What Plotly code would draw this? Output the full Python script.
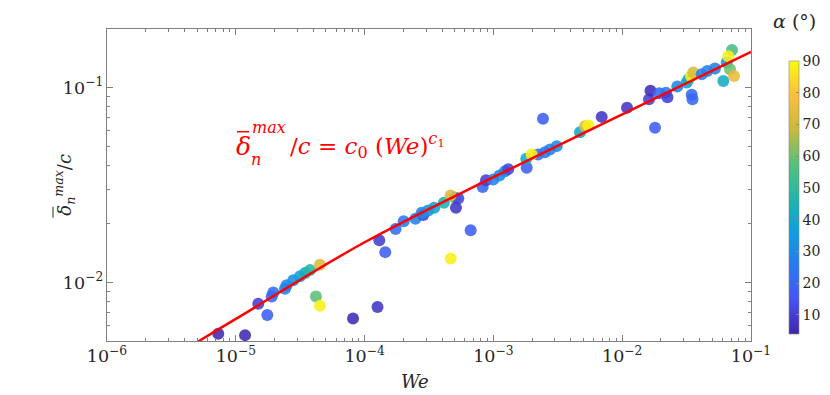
import plotly.graph_objects as go

FONT_FAMILY = "DejaVu Serif"

# Weber number, normalised max deflection, inclination angle (deg)
we = [7.31e-6, 1.18e-5, 1.495e-5, 1.756e-5, 1.90e-5, 1.955e-5, 2.41e-5, 2.48e-5, 2.795e-5, 3.15e-5,
      3.45e-5, 3.77e-5, 4.50e-5, 4.19e-5, 4.50e-5, 8.13e-5, 1.26e-4, 1.30e-4, 1.447e-4, 1.74e-4,
      2.01e-4, 2.48e-4, 2.855e-4, 2.775e-4, 3.12e-4, 3.475e-4, 4.13e-4, 5.03e-4, 5.34e-4, 5.12e-4,
      4.66e-4, 4.66e-4, 6.66e-4, 8.26e-4, 8.76e-4, 9.98e-4, 1.115e-3, 1.23e-3, 1.305e-3, 1.814e-3,
      1.80e-3, 2.22e-3, 1.98e-3, 2.515e-3, 2.75e-3, 3.10e-3, 2.427e-3, 4.70e-3, 5.14e-3, 5.455e-3,
      6.93e-3, 1.09e-2, 1.614e-2, 1.658e-2, 1.798e-2, 1.94e-2, 2.188e-2, 2.247e-2, 2.678e-2, 3.168e-2,
      3.27e-2, 3.464e-2, 3.514e-2, 3.42e-2, 3.565e-2, 4.143e-2, 4.577e-2, 5.253e-2, 6.095e-2, 6.476e-2,
      6.87e-2, 7.12e-2, 6.665e-2, 7.38e-2]
delta = [0.00545, 0.00536, 0.00777, 0.0068, 0.00847, 0.00888, 0.00928, 0.00967, 0.01026, 0.01074,
         0.01118, 0.01156, 0.01233, 0.00847, 0.00759, 0.00653, 0.00747, 0.01644, 0.0143, 0.01882,
         0.0206, 0.0212, 0.0222, 0.02275, 0.02338, 0.02414, 0.02561, 0.02717, 0.02694, 0.02414,
         0.02792, 0.01327, 0.01851, 0.03088, 0.03347, 0.03375, 0.03539, 0.03724, 0.03815, 0.03879,
         0.04313, 0.04538, 0.04538, 0.04663, 0.04815, 0.05007, 0.06926, 0.05908, 0.0634, 0.06398,
         0.07076, 0.07888, 0.08705, 0.09651, 0.06225, 0.09348, 0.09425, 0.08915, 0.1012, 0.1061,
         0.1103, 0.0918, 0.08705, 0.1147, 0.1195, 0.1171, 0.1217, 0.1252, 0.1081, 0.1345,
         0.1242, 0.1561, 0.1449, 0.1147]
alpha = [5, 5, 10, 18, 20, 22, 28, 28, 32, 38,
         42, 48, 72, 58, 88, 6, 8, 10, 18, 22,
         25, 28, 10, 30, 33, 38, 45, 50, 12, 8,
         72, 88, 18, 20, 10, 28, 30, 30, 12, 18,
         40, 22, 88, 25, 28, 30, 18, 40, 72, 88,
         8, 8, 10, 6, 18, 22, 25, 10, 30, 38,
         45, 20, 20, 88, 72, 28, 28, 28, 42, 35,
         60, 55, 88, 75]

# power-law fit
fit_we = [5.1e-6, 1e-5, 1e-4, 1e-3, 1e-2, 1e-1]
fit_delta = [0.00497, 0.00649, 0.01607, 0.0347, 0.0729, 0.1524]

cbar_ticks = [10, 20, 30, 40, 50, 60, 70, 80, 90]

PARULA = [
    [0.0, "rgb(62,38,168)"],
    [0.125, "rgb(72,82,244)"],
    [0.25, "rgb(40,122,242)"],
    [0.375, "rgb(13,158,222)"],
    [0.5, "rgb(32,182,170)"],
    [0.625, "rgb(88,192,122)"],
    [0.75, "rgb(200,186,60)"],
    [0.875, "rgb(254,190,60)"],
    [1.0, "rgb(249,251,14)"],
]

# page body adds an 8px offset; plot box in screen pixels
OFF = 8
L, R, T, B = 107, 751, 29.3, 341.3


def px(x):
    return (x - L) / (R - L)


def py(y):
    return (B - y) / (B - T)


fig = go.Figure()

fig.add_trace(go.Scatter(
    x=we, y=delta, mode="markers", showlegend=False,
    marker=dict(size=12, color=alpha, colorscale=PARULA, cmin=4, cmax=90, opacity=0.88,
                line=dict(width=0),
                colorbar=dict(x=px(779), xanchor="left", y=py(344.3), yanchor="bottom",
                              len=(344.3 - 51.7) / (B - T), lenmode="fraction", thickness=10,
                              outlinewidth=0.6, outlinecolor="#888",
                              tickvals=cbar_ticks, ticks="inside", ticklen=3, tickcolor="#888",
                              tickfont=dict(family=FONT_FAMILY, size=14, color="#262626"))),
))

fig.add_trace(go.Scatter(x=fit_we, y=fit_delta, mode="lines", showlegend=False,
                         line=dict(color="#ff0000", width=2.5, shape="spline", smoothing=1.0)))

ax = dict(type="log", showline=True, linewidth=1, linecolor="#808080", mirror="allticks",
          ticks="inside", ticklen=6, tickcolor="#808080", showgrid=False, zeroline=False,
          automargin=False, exponentformat="power",
          tickfont=dict(family=FONT_FAMILY, size=14, color="#262626"),
          minor=dict(ticks="inside", ticklen=3, tickcolor="#808080", showgrid=False))

red = "#ff0000"
dark = "#262626"
ann = [
    # colorbar title
    dict(text="<i>α</i> (°)", x=px(794), y=py(21), xanchor="center", yanchor="middle",
         font=dict(size=19, color=dark)),
    # in-plot formula
    dict(text="<i>δ</i>", x=px(243), y=py(147), xanchor="center", yanchor="middle",
         font=dict(size=25, color=red)),
    dict(text="<i>max</i>", x=px(250), y=py(128), xanchor="left", yanchor="middle",
         font=dict(size=16, color=red)),
    dict(text="<i>n</i>", x=px(249), y=py(160), xanchor="left", yanchor="middle",
         font=dict(size=16, color=red)),
    dict(text="/<i>c</i> = <i>c</i><sub>0</sub> (<i>We</i>)<sup><i>c</i><sub>1</sub></sup>",
         x=px(288), y=py(146), xanchor="left", yanchor="middle",
         font=dict(size=23, color=red)),
    # y-axis title
    dict(text="<i>δ</i><sub><i>n</i></sub><sup><i>max</i></sup>/<i>c</i>", x=px(64), y=py(185),
         xanchor="center", yanchor="middle", textangle=-90, font=dict(size=18, color=dark)),
    # x-axis title
    dict(text="<i>We</i>", x=px(415), y=py(382), xanchor="center", yanchor="middle",
         font=dict(size=18, color=dark)),
]
for a in ann:
    a.update(xref="paper", yref="paper", showarrow=False)

shapes = [
    dict(type="line", x0=px(237), x1=px(249), y0=py(132), y1=py(132), line=dict(color=red, width=1.5)),
    dict(type="line", x0=px(53), x1=px(53), y0=py(207), y1=py(218), line=dict(color=dark, width=1)),
]
for s in shapes:
    s.update(xref="paper", yref="paper")

fig.update_layout(
    width=830, height=395,
    margin=dict(l=L - OFF, r=830 - (R - OFF), t=T - OFF, b=395 - (B - OFF), autoexpand=False),
    paper_bgcolor="white", plot_bgcolor="white",
    font=dict(family=FONT_FAMILY, color=dark),
    xaxis=dict(ax, range=[-6, -1], dtick=1),
    yaxis=dict(ax, range=[-2.301, -0.699], dtick=1),
    annotations=ann,
    shapes=shapes,
)

fig.write_html("out.html")
